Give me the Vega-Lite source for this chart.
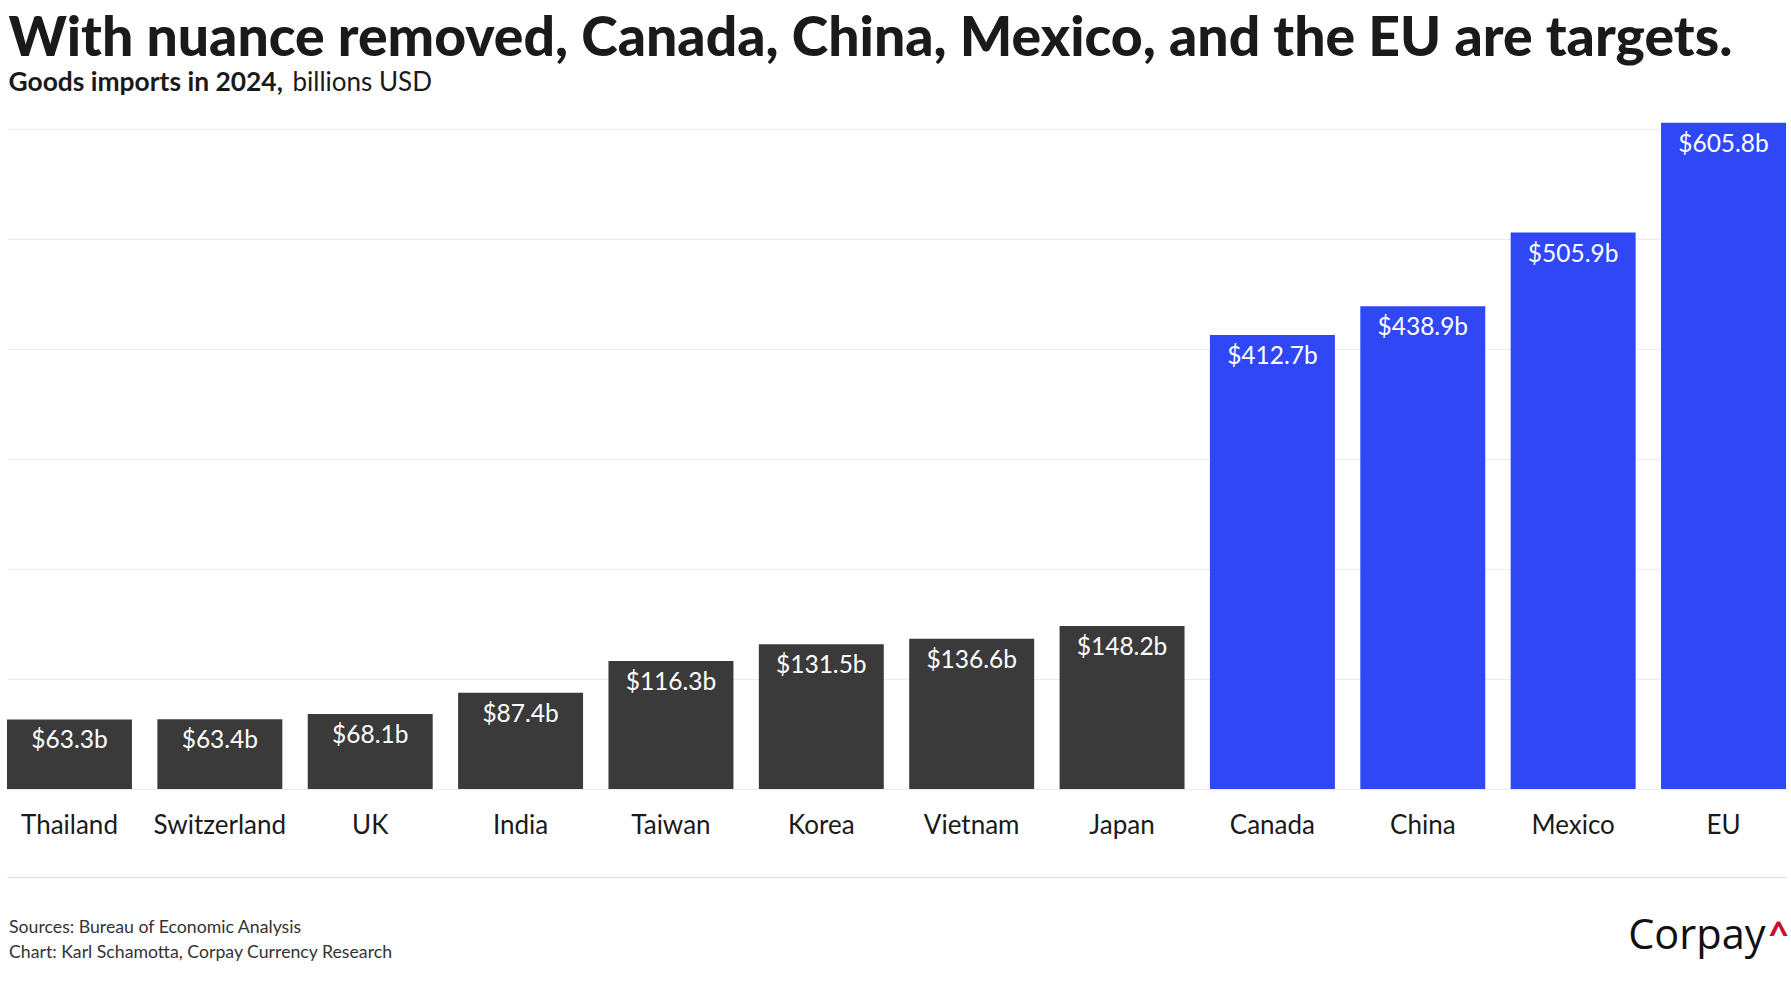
{
  "$schema": "https://vega.github.io/schema/vega-lite/v6.json",
  "width": 1779,
  "height": 666,
  "autosize": {"type": "none"},
  "padding": {"left": 7, "top": 123, "right": 5, "bottom": 211},
  "background": "white",
  "config": {
    "view": {"stroke": null},
    "font": "Lato",
    "axis": {"titleLimit": 1791, "labelFont": "Lato", "titleFont": "Lato"}
  },
  "data": {
    "values": [
      {"country": "Thailand", "imports": 63.3, "label": "$63.3b", "group": "other"},
      {"country": "Switzerland", "imports": 63.4, "label": "$63.4b", "group": "other"},
      {"country": "UK", "imports": 68.1, "label": "$68.1b", "group": "other"},
      {"country": "India", "imports": 87.4, "label": "$87.4b", "group": "other"},
      {"country": "Taiwan", "imports": 116.3, "label": "$116.3b", "group": "other"},
      {"country": "Korea", "imports": 131.5, "label": "$131.5b", "group": "other"},
      {"country": "Vietnam", "imports": 136.6, "label": "$136.6b", "group": "other"},
      {"country": "Japan", "imports": 148.2, "label": "$148.2b", "group": "other"},
      {"country": "Canada", "imports": 412.7, "label": "$412.7b", "group": "target"},
      {"country": "China", "imports": 438.9, "label": "$438.9b", "group": "target"},
      {"country": "Mexico", "imports": 505.9, "label": "$505.9b", "group": "target"},
      {"country": "EU", "imports": 605.8, "label": "$605.8b", "group": "target"}
    ]
  },
  "resolve": {"axis": {"x": "independent", "y": "independent"}},
  "layer": [
    {
      "transform": [{"filter": "datum.group === 'other'"}],
      "mark": {"type": "bar", "color": "#3a3a3a"},
      "encoding": {
        "x": {
          "field": "country",
          "type": "nominal",
          "sort": null,
          "scale": {
            "domain": ["Thailand", "Switzerland", "UK", "India", "Taiwan", "Korea", "Vietnam", "Japan", "Canada", "China", "Mexico", "EU"],
            "paddingInner": 0.169,
            "paddingOuter": 0
          },
          "axis": {
            "orient": "bottom",
            "offset": 88,
            "domain": true,
            "domainColor": "#e2e2e2",
            "domainWidth": 1.5,
            "ticks": false,
            "tickSize": 0,
            "grid": false,
            "labelAngle": 0,
            "labelPadding": -44,
            "labelBaseline": "alphabetic",
            "labelFontSize": 26,
            "labelColor": "#1a1a1a",
            "title": ["Sources: Bureau of Economic Analysis", "Chart: Karl Schamotta, Corpay Currency Research"],
            "titleX": 1.5,
            "titleY": 41.5,
            "titleAngle": 0,
            "titleAlign": "left",
            "titleBaseline": "top",
            "titleFontSize": 17.7,
            "titleFontWeight": "normal",
            "titleColor": "#333333",
            "titleLineHeight": 24.5
          }
        },
        "y": {
          "field": "imports",
          "type": "quantitative",
          "scale": {"domain": [0, 605.5], "nice": false, "zero": true},
          "axis": {
            "orient": "left",
            "values": [0, 100, 200, 300, 400, 500, 600],
            "grid": true,
            "gridColor": "#ebebeb",
            "gridWidth": 1,
            "labels": false,
            "ticks": false,
            "domain": false,
            "title": "With nuance removed, Canada, China, Mexico, and the EU are targets.",
            "titleX": 1,
            "titleY": -67.5,
            "titleAngle": 0,
            "titleAlign": "left",
            "titleBaseline": "alphabetic",
            "titleFontSize": 55.3,
            "titleFontWeight": 900,
            "titleColor": "#1a1a1a"
          }
        }
      }
    },
    {
      "transform": [{"filter": "datum.group === 'target'"}],
      "mark": {"type": "bar", "color": "#2f47f5"},
      "encoding": {
        "x": {
          "field": "country",
          "type": "nominal",
          "sort": null,
          "axis": {
            "orient": "top",
            "labels": false,
            "ticks": false,
            "domain": false,
            "grid": false,
            "title": "Goods imports in 2024,",
            "titleX": 1,
            "titleY": -33,
            "titleAngle": 0,
            "titleAlign": "left",
            "titleBaseline": "alphabetic",
            "titleFontSize": 26.4,
            "titleFontWeight": "bold",
            "titleColor": "#1a1a1a"
          }
        },
        "y": {
          "field": "imports",
          "type": "quantitative",
          "axis": {
            "orient": "right",
            "labels": false,
            "ticks": false,
            "domain": false,
            "grid": false,
            "title": "Corpay",
            "titleFont": "Open Sans",
            "titleX": -21,
            "titleY": 825,
            "titleAngle": 0,
            "titleAlign": "right",
            "titleBaseline": "alphabetic",
            "titleFontSize": 41.5,
            "titleFontWeight": "normal",
            "titleColor": "#111111"
          }
        }
      }
    },
    {
      "mark": {"type": "text", "color": "white", "baseline": "alphabetic", "align": "center", "dy": 29, "fontSize": 24.5, "font": "Lato"},
      "encoding": {
        "x": {
          "field": "country",
          "type": "nominal",
          "sort": null,
          "axis": {
            "orient": "top",
            "labels": false,
            "ticks": false,
            "domain": false,
            "grid": false,
            "title": "billions USD",
            "titleX": 285,
            "titleY": -33,
            "titleAngle": 0,
            "titleAlign": "left",
            "titleBaseline": "alphabetic",
            "titleFontSize": 26,
            "titleFontWeight": "normal",
            "titleColor": "#1a1a1a"
          }
        },
        "y": {
          "field": "imports",
          "type": "quantitative",
          "axis": {
            "orient": "right",
            "labels": false,
            "ticks": false,
            "domain": false,
            "grid": false,
            "title": "^",
            "titleX": -19,
            "titleY": 825,
            "titleAngle": 0,
            "titleAlign": "left",
            "titleBaseline": "alphabetic",
            "titleFontSize": 38,
            "titleFontWeight": "bold",
            "titleColor": "#c8102e"
          }
        },
        "text": {"field": "label", "type": "nominal"}
      }
    }
  ]
}
